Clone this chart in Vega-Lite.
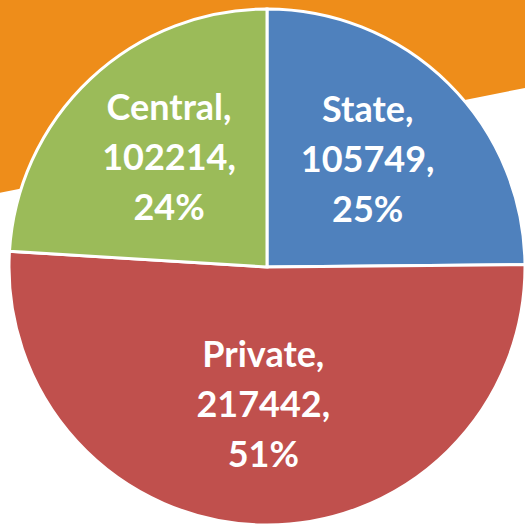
{
  "$schema": "https://vega.github.io/schema/vega-lite/v6.json",
  "width": 516,
  "height": 522,
  "padding": {"left": 9, "top": 6, "right": 0, "bottom": 0},
  "autosize": {"type": "none"},
  "background": "#ffffff",
  "config": {"view": {"stroke": null}},
  "datasets": {
    "shares": [
      {"sector": "State", "value": 105749, "seq": 1, "label": "State,\n105749,\n25%"},
      {"sector": "Private", "value": 217442, "seq": 2, "label": "Private,\n217442,\n51%"},
      {"sector": "Central", "value": 102214, "seq": 3, "label": "Central,\n102214,\n24%"}
    ],
    "backdrop": [
      {"bx": -0.018, "lo": 0.642, "hi": 1.02},
      {"bx": 1.0, "lo": 0.843, "hi": 1.02}
    ]
  },
  "layer": [
    {
      "data": {"name": "backdrop"},
      "mark": {"type": "area", "color": "#EE8D1A", "clip": false},
      "encoding": {
        "x": {"field": "bx", "type": "quantitative", "scale": {"domain": [0, 1], "nice": false, "zero": false}, "axis": null},
        "y": {"field": "lo", "type": "quantitative", "scale": {"domain": [0, 1], "nice": false, "zero": false}, "axis": null},
        "y2": {"field": "hi"}
      }
    },
    {
      "data": {"name": "shares"},
      "layer": [
        {
          "mark": {"type": "arc", "outerRadius": 258, "stroke": "#ffffff", "strokeWidth": 3},
          "encoding": {
            "theta": {"field": "value", "type": "quantitative", "stack": true},
            "order": {"field": "seq", "type": "quantitative"},
            "color": {
              "field": "sector",
              "type": "nominal",
              "scale": {"domain": ["State", "Private", "Central"], "range": ["#4F81BD", "#C0504D", "#9BBB59"]},
              "legend": null
            }
          }
        },
        {
          "mark": {"type": "text", "radius": 143, "dy": -54, "font": "Lato", "fontWeight": "bold", "fontSize": 36, "lineBreak": "\n", "lineHeight": 50, "fill": "#ffffff", "align": "center", "baseline": "middle"},
          "encoding": {
            "theta": {"field": "value", "type": "quantitative", "stack": true},
            "order": {"field": "seq", "type": "quantitative"},
            "text": {"field": "label", "type": "nominal"}
          }
        }
      ]
    }
  ]
}
